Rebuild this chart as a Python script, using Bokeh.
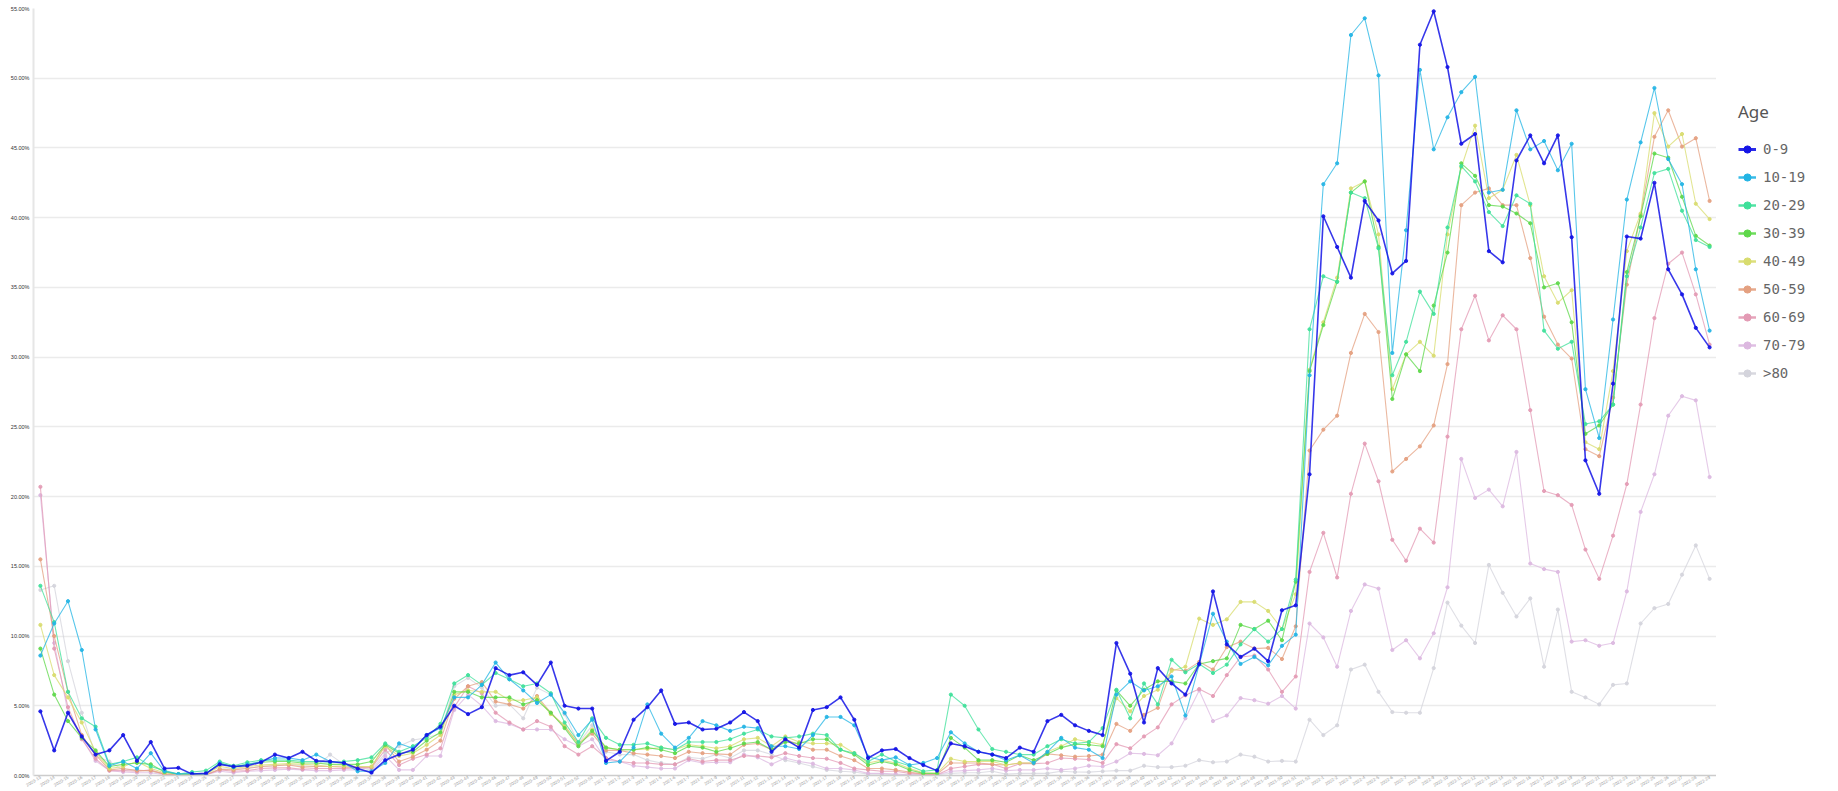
from bokeh.plotting import figure
from bokeh.layouts import row
from bokeh.models import (FactorRange, Range1d, FixedTicker, PrintfTickFormatter,
                          Legend, LegendItem, ColumnDataSource)
from bokeh.embed import file_html
from bokeh.resources import INLINE

weeks = ([f"2020-{w}" for w in range(13, 54)] +
         [f"2021-{w}" for w in range(1, 53)] +
         [f"2022-{w}" for w in range(1, 30)])

age_groups = ["0-9", "10-19", "20-29", "30-39", "40-49", "50-59", "60-69", "70-79", ">80"]
colors = ["#1414e6", "#22b4e4", "#3ee09a", "#5ed84a", "#d8dc6e", "#e4a080", "#e39ab4", "#dcb8e0", "#d4d4dc"]

v_0_9 = [4.6, 1.8, 4.5, 2.8, 1.5, 1.8, 2.9, 1.05, 2.4, 0.5, 0.55, 0.1, 0.15, 0.8, 0.65, 0.7, 0.95, 1.5, 1.25, 1.7,
         1.05, 1.0, 0.9, 0.5, 0.2, 1.1, 1.5, 1.85, 2.9, 3.5, 5.0, 4.4, 4.9, 7.7, 7.2, 7.4, 6.5, 8.1, 5.0, 4.8,
         4.8, 1.05, 1.7, 4.0, 4.9, 6.1, 3.7, 3.8, 3.3, 3.35, 3.8, 4.55, 3.9, 1.7, 2.6, 2.0, 4.7, 4.9, 5.6, 4.0,
         1.25, 1.8, 1.9, 1.25, 0.75, 0.35, 2.3, 2.1, 1.7, 1.5, 1.25, 2.0, 1.7, 3.9, 4.35, 3.6, 3.2, 2.9, 9.5, 7.3,
         3.8, 7.7, 6.6, 5.8, 8.0, 13.2, 9.4, 8.5, 9.1, 8.2, 11.85, 12.2, 21.6, 40.1, 37.9, 35.7, 41.2, 39.8, 36.0, 36.9,
         52.4, 54.8, 50.8, 45.3, 46.0, 37.6, 36.8, 44.1, 45.9, 43.9, 45.9, 38.6, 22.6, 20.2, 28.1, 38.65, 38.5, 42.5, 36.3, 34.5,
         32.1, 30.7]
v_10_19 = [8.6, 10.9, 12.5, 9.0, 3.3, 0.7, 1.0, 0.5, 1.6, 0.3, 0.1, 0.15, 0.1, 0.9, 0.6, 0.8, 1.0, 1.25, 1.25, 1.1,
           1.5, 1.0, 0.9, 0.3, 0.3, 0.9, 2.3, 1.95, 2.9, 3.4, 5.6, 5.6, 6.5, 8.1, 6.9, 6.1, 5.2, 5.8, 4.5, 2.9,
           4.0, 0.9, 1.0, 2.0, 5.1, 3.0, 2.0, 2.7, 3.9, 3.6, 3.2, 3.5, 3.4, 2.1, 2.1, 1.9, 2.9, 4.2, 4.2, 3.6,
           1.35, 1.1, 1.3, 0.75, 0.9, 1.25, 3.1, 2.3, 1.7, 1.5, 1.1, 1.45, 0.9, 1.7, 2.7, 2.0, 1.85, 1.25, 5.8, 6.75,
           6.1, 6.4, 7.1, 4.3, 7.95, 11.6, 9.6, 8.0, 8.5, 7.9, 9.3, 10.1, 28.7, 42.4, 43.9, 53.1, 54.3, 50.2, 30.3, 39.1,
           50.6, 44.9, 47.2, 49.0, 50.1, 41.8, 42.0, 47.7, 44.9, 45.5, 43.4, 45.3, 27.7, 24.2, 32.7, 41.3, 45.4, 49.3, 44.2, 42.4,
           36.3, 31.9]
v_20_29 = [13.6, 11.0, 6.0, 4.1, 3.5, 0.8, 1.0, 1.3, 0.65, 0.35, 0.1, 0.25, 0.35, 1.0, 0.7, 0.95, 1.1, 1.1, 1.1, 1.0,
           1.0, 0.95, 1.0, 1.1, 1.3, 2.3, 1.7, 2.1, 2.7, 3.7, 6.6, 7.2, 6.5, 7.35, 6.9, 6.4, 6.6, 5.9, 3.8, 2.4,
           4.1, 2.7, 2.2, 2.2, 2.3, 2.0, 1.85, 2.4, 2.4, 2.4, 2.6, 3.0, 3.3, 2.8, 2.7, 2.8, 3.0, 2.9, 1.85, 1.6,
           1.0, 1.5, 1.0, 0.7, 0.3, 0.4, 5.8, 5.0, 3.3, 1.9, 1.7, 1.5, 1.5, 2.1, 2.6, 2.3, 2.4, 3.4, 6.15, 4.1,
           6.6, 5.1, 8.3, 7.4, 8.0, 7.35, 7.95, 9.4, 10.5, 9.6, 10.5, 14.05, 32.0, 35.8, 35.4, 41.8, 41.4, 37.8, 28.7, 31.1,
           34.7, 33.1, 39.3, 43.7, 42.6, 40.4, 39.4, 41.6, 41.0, 31.9, 30.6, 31.1, 25.2, 25.4, 26.6, 35.8, 39.3, 43.2, 43.5, 40.5,
           38.4, 37.9]
v_30_39 = [9.1, 5.8, 3.9, 2.7, 1.8, 0.65, 0.8, 0.9, 0.8, 0.25, 0.1, 0.1, 0.1, 0.9, 0.6, 0.8, 0.95, 1.0, 1.0, 0.9,
           0.9, 0.8, 0.8, 0.8, 1.0, 2.2, 1.6, 1.7, 2.5, 3.1, 6.0, 6.0, 5.6, 5.6, 5.6, 5.1, 5.4, 4.5, 3.4, 2.1,
           3.2, 2.0, 1.85, 1.85, 2.0, 1.85, 1.6, 2.1, 2.0, 1.7, 1.95, 2.3, 2.4, 1.85, 2.4, 2.3, 2.6, 2.6, 1.85, 1.5,
           0.75, 1.0, 0.8, 0.4, 0.15, 0.15, 2.7, 2.0, 1.1, 1.1, 0.95, 1.45, 1.1, 1.55, 2.0, 2.25, 2.2, 2.1, 6.1, 5.0,
           6.15, 6.75, 6.75, 6.6, 8.0, 8.2, 8.4, 10.8, 10.5, 11.1, 9.7, 13.9, 29.0, 32.3, 35.4, 41.8, 42.6, 37.9, 27.0, 30.2,
           29.0, 33.7, 37.5, 43.9, 43.0, 40.9, 40.8, 40.3, 39.6, 35.0, 35.3, 32.5, 24.5, 25.1, 26.6, 36.1, 40.1, 44.6, 44.3, 41.5,
           38.7, 38.0]
v_40_49 = [10.8, 7.2, 5.6, 3.8, 1.7, 0.5, 0.65, 1.0, 0.5, 0.2, 0.1, 0.1, 0.1, 0.65, 0.5, 0.65, 0.75, 0.8, 0.85, 0.8,
           0.75, 0.65, 0.7, 0.65, 0.65, 2.1, 1.4, 1.6, 2.2, 2.9, 5.8, 6.1, 6.0, 6.0, 5.4, 5.4, 5.6, 4.4, 3.6, 2.2,
           3.3, 2.0, 1.85, 1.85, 1.9, 2.0, 1.85, 2.2, 2.1, 1.95, 2.1, 2.6, 2.7, 2.1, 2.8, 2.4, 2.3, 2.3, 2.2, 1.6,
           0.9, 1.1, 0.9, 0.5, 0.2, 0.15, 1.2, 1.0, 1.0, 1.0, 0.75, 0.9, 0.9, 1.7, 2.1, 2.6, 2.4, 2.2, 5.55, 4.6,
           5.7, 6.15, 7.5, 7.8, 11.25, 10.8, 11.2, 12.45, 12.45, 11.8, 10.5, 13.0, 29.1, 32.5, 35.7, 42.1, 42.6, 38.8, 27.7, 30.2,
           31.1, 30.1, 38.8, 43.6, 46.6, 41.4, 42.0, 44.5, 40.9, 35.8, 33.9, 34.8, 23.9, 23.4, 29.0, 37.6, 40.3, 47.5, 45.1, 46.0,
           41.0, 39.9]
v_50_59 = [15.5, 10.0, 6.0, 2.9, 1.5, 0.4, 0.5, 0.35, 0.35, 0.1, 0.05, 0.05, 0.05, 0.45, 0.4, 0.5, 0.65, 0.7, 0.75, 0.6,
           0.65, 0.65, 0.6, 0.6, 0.6, 2.2, 1.0, 1.35, 1.85, 2.5, 5.5, 6.4, 6.7, 5.3, 5.1, 4.8, 5.7, 4.5, 3.5, 2.3,
           3.0, 1.8, 1.8, 1.6, 1.5, 1.4, 1.25, 1.7, 1.6, 1.55, 1.5, 2.2, 2.3, 1.85, 2.6, 2.2, 1.85, 1.85, 1.4, 1.1,
           0.5, 0.5, 0.4, 0.25, 0.1, 0.1, 0.9, 0.9, 0.9, 0.8, 0.75, 0.9, 0.9, 1.55, 1.45, 1.35, 1.4, 1.5, 3.7, 3.2,
           4.35, 4.85, 7.6, 7.5, 8.15, 7.6, 9.2, 9.6, 9.1, 9.15, 8.35, 10.7, 23.3, 24.8, 25.8, 30.3, 33.1, 31.8, 21.8, 22.7,
           23.6, 25.1, 29.5, 40.9, 41.8, 42.1, 40.9, 40.9, 37.1, 32.9, 30.9, 29.9, 23.4, 22.9, 27.1, 35.2, 40.2, 45.8, 47.7, 45.1,
           45.7, 41.2]
v_60_69 = [20.7, 9.1, 4.9, 2.6, 1.2, 0.35, 0.35, 0.3, 0.4, 0.1, 0.05, 0.05, 0.05, 0.4, 0.3, 0.35, 0.5, 0.55, 0.55, 0.45,
           0.5, 0.5, 0.5, 0.55, 0.55, 1.85, 0.75, 1.2, 1.5, 1.95, 4.9, 6.4, 5.9, 4.5, 3.8, 3.3, 3.9, 3.5, 2.1, 1.5,
           2.1, 1.25, 1.0, 0.9, 0.9, 0.8, 0.8, 1.2, 1.0, 1.1, 1.1, 1.4, 1.4, 1.3, 1.6, 1.4, 1.25, 1.2, 0.9, 0.5,
           0.4, 0.3, 0.3, 0.15, 0.1, 0.05, 0.5, 0.65, 0.8, 0.8, 0.5, 0.85, 0.85, 0.9, 1.25, 1.2, 1.15, 0.9, 2.25, 1.95,
           2.8, 3.45, 5.1, 5.75, 6.2, 5.7, 7.2, 8.5, 8.6, 7.6, 6.0, 7.1, 14.6, 17.4, 14.2, 20.2, 23.8, 21.1, 16.9, 15.4,
           17.7, 16.7, 24.3, 32.0, 34.4, 31.2, 33.0, 32.0, 26.2, 20.4, 20.1, 19.4, 16.2, 14.1, 17.2, 20.9, 26.6, 32.8, 36.7, 37.5,
           34.5, 30.9]
v_70_79 = [20.1, 9.5, 4.5, 2.7, 1.05, 0.35, 0.25, 0.2, 0.2, 0.05, 0.05, 0.05, 0.05, 0.3, 0.2, 0.3, 0.35, 0.4, 0.45, 0.4,
           0.35, 0.35, 0.4, 0.4, 0.3, 1.4, 0.4, 0.4, 1.4, 1.4, 4.7, 5.8, 5.0, 3.9, 3.7, 3.3, 3.3, 3.3, 2.6, 2.1,
           2.6, 1.1, 1.0, 0.7, 0.6, 0.5, 0.5, 1.1, 0.9, 0.95, 0.95, 1.5, 1.3, 0.8, 1.25, 1.0, 0.85, 0.5, 0.5, 0.4,
           0.15, 0.15, 0.1, 0.05, 0.05, 0.05, 0.3, 0.35, 0.4, 0.5, 0.35, 0.4, 0.4, 0.5, 0.4, 0.5, 0.7, 0.65, 1.0, 1.6,
           1.55, 1.45, 2.3, 4.1, 6.1, 3.9, 4.3, 5.55, 5.4, 5.15, 5.7, 4.8, 10.9, 9.9, 7.8, 11.8, 13.7, 13.4, 9.0, 9.7,
           8.4, 10.2, 13.5, 22.7, 19.9, 20.5, 19.3, 23.2, 15.2, 14.8, 14.6, 9.6, 9.7, 9.3, 9.5, 13.2, 18.9, 21.6, 25.8, 27.2,
           26.9, 21.4]
v_80 = [13.3, 13.6, 8.2, 4.5, 1.4, 1.0, 0.4, 0.4, 0.3, 0.1, 0.05, 0.05, 0.05, 0.45, 0.5, 0.55, 0.65, 0.7, 0.8, 0.7,
        0.65, 1.5, 0.8, 0.6, 0.4, 1.6, 2.1, 2.55, 2.7, 3.0, 6.4, 7.0, 6.3, 5.0, 5.1, 4.1, 6.3, 5.8, 4.4, 2.3,
        3.6, 1.7, 1.5, 1.5, 1.1, 0.9, 0.8, 1.3, 1.2, 1.5, 1.25, 1.8, 1.8, 1.5, 1.1, 0.9, 0.65, 0.4, 0.3, 0.25,
        0.1, 0.1, 0.05, 0.05, 0.05, 0.05, 0.15, 0.2, 0.2, 0.3, 0.1, 0.15, 0.15, 0.15, 0.3, 0.25, 0.24, 0.3, 0.35, 0.35,
        0.7, 0.6, 0.6, 0.7, 1.1, 0.95, 1.0, 1.5, 1.35, 1.0, 1.05, 1.0, 4.0, 2.9, 3.6, 7.6, 7.95, 6.0, 4.55, 4.5,
        4.5, 7.7, 12.4, 10.75, 9.5, 15.1, 13.1, 11.4, 12.7, 7.8, 11.9, 6.0, 5.6, 5.1, 6.5, 6.6, 10.9, 12.0, 12.3, 14.4,
        16.5, 14.1]

series = [v_0_9, v_10_19, v_20_29, v_30_39, v_40_49, v_50_59, v_60_69, v_70_79, v_80]
y_ticks = [0, 5, 10, 15, 20, 25, 30, 35, 40, 45, 50, 55]

p = figure(width=1716, height=791, x_range=FactorRange(*weeks, range_padding=0),
           y_range=Range1d(0, 55.0), output_backend="svg", toolbar_location=None,
           min_border_left=33, min_border_top=8, min_border_bottom=0, min_border_right=0)
p.outline_line_color = None
p.background_fill_color = "white"
p.xgrid.grid_line_color = None
p.ygrid.grid_line_color = "#ebebeb"
p.ygrid.grid_line_width = 1.5
p.yaxis.ticker = FixedTicker(ticks=y_ticks)
p.yaxis.formatter = PrintfTickFormatter(format="%.2f%%")
p.yaxis.major_label_text_font_size = "5.5px"
p.yaxis.major_label_text_color = "#333333"
p.yaxis.axis_line_color = "#e6e6e6"
p.yaxis.axis_line_width = 2
p.yaxis.major_tick_line_color = None
p.yaxis.minor_tick_line_color = None
p.yaxis.major_tick_out = 0
p.yaxis.minor_tick_out = 0
p.yaxis.major_label_standoff = 4
p.xaxis.major_label_orientation = 0.55
p.xaxis.major_label_text_font_size = "4.5px"
p.xaxis.major_label_text_color = "#999999"
p.xaxis.axis_line_color = "#cccccc"
p.xaxis.axis_line_width = 1.5
p.xaxis.major_tick_line_color = None
p.xaxis.major_tick_out = 0
p.xaxis.minor_tick_out = 0
p.xaxis.major_label_standoff = 1

# legend lives in a narrow companion figure on the right
pl = figure(width=122, height=791, x_range=Range1d(0, 1), y_range=Range1d(0, 1),
            x_axis_type=None, y_axis_type=None, output_backend="svg", toolbar_location=None,
            min_border_left=0, min_border_right=0, min_border_top=0, min_border_bottom=0)
pl.outline_line_color = None

items = {}
for name, vals, col in reversed(list(zip(age_groups, series, colors))):
    src = ColumnDataSource(dict(x=weeks, y=vals))
    lw = 1.6 if name == "0-9" else 1.1
    la = 0.85 if name == "0-9" else 0.75
    p.line("x", "y", source=src, line_color=col, line_width=lw, line_alpha=la)
    p.scatter("x", "y", source=src, size=3.2, fill_color=col, line_color=col, alpha=0.9)
    # swatch renderers for the legend, placed outside the companion figure's visible range
    l1 = pl.line(x=[5, 6], y=[5, 5], line_color=col, line_width=3 if name == "0-9" else 2.5, line_alpha=0.9)
    l2 = pl.scatter(x=[5], y=[5], size=8, fill_color=col, line_color=col)
    items[name] = [l1, l2]

legend = Legend(items=[LegendItem(label=n, renderers=items[n]) for n in age_groups],
                title="Age", location=(22, 392))
legend.border_line_color = None
legend.background_fill_alpha = 0
legend.title_text_font = "Noto Sans"
legend.title_text_font_size = "17px"
legend.title_text_font_style = "normal"
legend.title_text_color = "#555555"
legend.title_standoff = 16
legend.label_text_font = "DejaVu Sans Mono"
legend.label_text_font_size = "14px"
legend.label_text_color = "#666666"
legend.label_standoff = 7
legend.glyph_width = 18
legend.glyph_height = 20
legend.label_height = 20
legend.spacing = 8
legend.padding = 8
legend.margin = 0
pl.add_layout(legend)

layout = row(p, pl)
open("out.html", "w").write(file_html(layout, INLINE))
